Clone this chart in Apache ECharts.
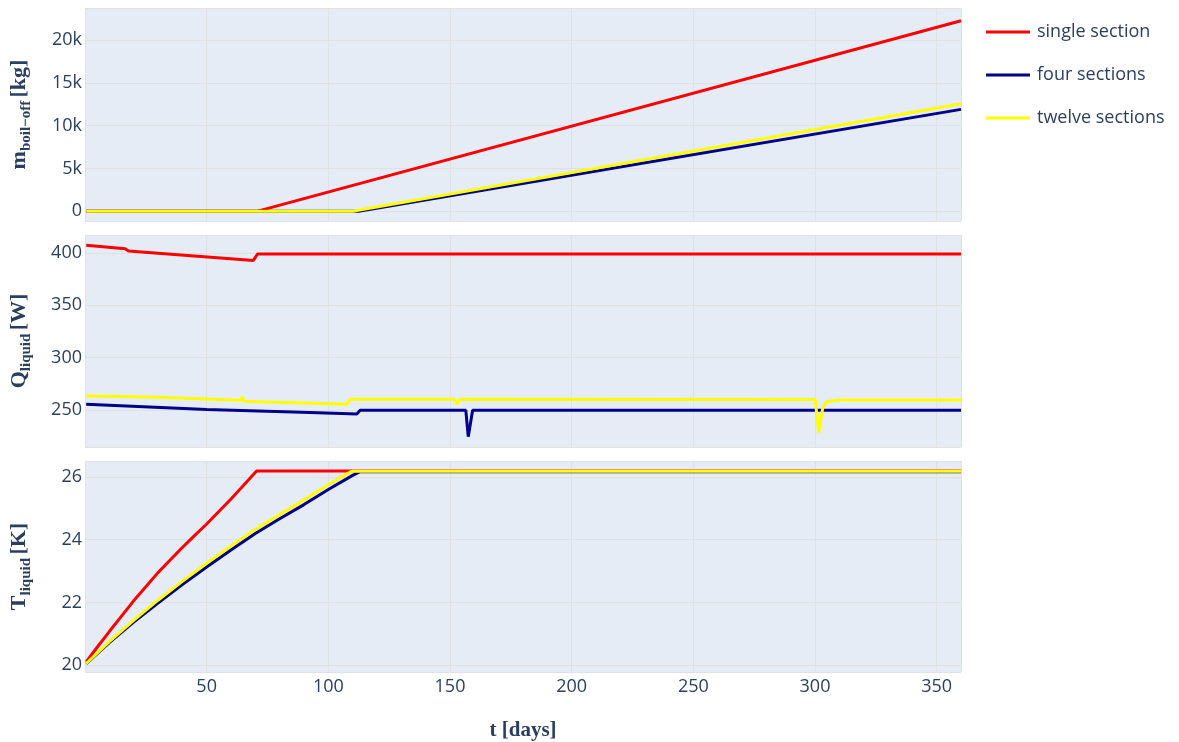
<!DOCTYPE html>
<html>
<head>
<meta charset="utf-8">
<script src="https://cdn.jsdelivr.net/npm/echarts@6/dist/echarts.min.js"></script>
<style>
  html, body { margin: 0; padding: 0; background: #ffffff; }
  #chart { width: 1179px; height: 742px; }
</style>
</head>
<body>
<div id="chart"></div>
<script>
// Tank simulation results: boil-off mass, heat into the liquid and liquid temperature
const seriesNames = ['single section', 'four sections', 'twelve sections'];
const seriesColors = ['#ff0000', '#00008b', '#ffff00'];

// [t (days), boil-off mass (kg)]
const boilSingle = [[0.5, 0], [71, 0], [360, 22260]];
const boilFour = [[0.5, 0], [112.5, 0], [360, 11900]];
const boilTwelve = [[0.5, 0], [110, 0], [360, 12560]];

// [t (days), heat into liquid (W)]
const heatSingle = [[0.5, 407.3], [16.5, 404.1], [17.9, 401.9], [69.2, 392.9], [70.9, 399.0], [360, 399.0]];
const heatFour = [[0.5, 255.5], [50, 250.5], [89, 247.8], [111.7, 246.2], [113.1, 249.7], [156.5, 249.7],
                  [157.5, 224.5], [159.3, 249.7], [360, 249.7]];
const heatTwelve = [[0.5, 263.4], [26.3, 262.4], [26.8, 260.6], [64.0, 259.3], [64.6, 262.7], [65.3, 258.4],
                    [107.6, 255.5], [109, 260.3], [151.8, 260.3], [152.9, 255.8], [154.1, 260.3], [300.1, 259.9],
                    [301.5, 228.3], [303.3, 253.2], [304.8, 258.0], [310.3, 259.6], [360, 259.6]];

// [t (days), liquid temperature (K)]
const tempSingle = [[0.5, 20.1], [5, 20.57], [10, 21.07], [15, 21.56], [20, 22.05], [25, 22.5], [30, 22.95],
                    [35, 23.35], [40, 23.75], [45, 24.13], [50, 24.5], [55, 24.9], [60, 25.3], [65, 25.72],
                    [70.5, 26.19], [360, 26.19]];
const tempFour = [[0.5, 20.05], [10, 20.72], [20, 21.37], [30, 21.98], [40, 22.57], [50, 23.13], [60, 23.67],
                  [70, 24.2], [80, 24.67], [90, 25.12], [100, 25.6], [110, 26.05], [113, 26.17], [360, 26.17]];
const tempTwelve = [[0.5, 20.05], [10, 20.75], [20, 21.43], [30, 22.07], [40, 22.67], [50, 23.25], [60, 23.8],
                    [70, 24.33], [80, 24.8], [90, 25.27], [100, 25.75], [109.5, 26.18], [360, 26.18]];

const panels = [
  [boilSingle, boilFour, boilTwelve],
  [heatSingle, heatFour, heatTwelve],
  [tempSingle, tempFour, tempTwelve]
];

// y ranges per panel and the number of splits that yields the ticks
const yRanges = [[-1150, 23750, 5], [214.6, 417.2, 4], [19.78, 26.51, 3]];

const textColor = '#2a3f5f';
const gridColor = '#dfe1e5';
const labelFont = { color: textColor, fontSize: 18, fontFamily: 'Open Sans' };
const titleFont = 'Liberation Serif';

const grids = [
  { left: 85, right: 218, top: 8, height: 213 },
  { left: 85, right: 218, top: 235, height: 212 },
  { left: 85, right: 218, top: 461, height: 212 }
];

const yNames = [
  '{m|m}{s|boil\u2212off} {m|[kg]}',
  '{m|Q}{s|liquid} {m|[W]}',
  '{m|T}{s|liquid} {m|[K]}'
];

const richTitle = {
  m: { fontFamily: titleFont, fontWeight: 'bold', fontSize: 22, color: textColor, verticalAlign: 'bottom' },
  s: { fontFamily: titleFont, fontWeight: 'bold', fontSize: 15, color: textColor, verticalAlign: 'bottom', padding: [0, 0, -4, 0] }
};

const xAxes = grids.map((g, i) => ({
  type: 'value',
  gridIndex: i,
  min: 0,
  max: 360,
  interval: 50,
  axisLine: { show: false },
  axisTick: { show: false },
  axisLabel: {
    show: i === 2, ...labelFont, margin: 6,
    showMinLabel: false, showMaxLabel: false
  },
  splitLine: { show: true, lineStyle: { color: gridColor, width: 1 } },
  name: i === 2 ? 't [days]' : '',
  nameLocation: 'middle',
  nameGap: 48,
  nameTextStyle: { fontFamily: titleFont, fontWeight: 'bold', fontSize: 21, color: textColor }
}));

const yAxes = grids.map((g, i) => ({
  type: 'value',
  gridIndex: i,
  min: yRanges[i][0],
  max: yRanges[i][1],
  splitNumber: yRanges[i][2],
  axisLine: { show: false },
  axisTick: { show: false },
  axisLabel: {
    ...labelFont, margin: 3,
    showMinLabel: false, showMaxLabel: false,
    formatter: i === 0 ? (v => (v === 0 ? '0' : (v / 1000) + 'k')) : (v => String(v))
  },
  splitLine: { show: true, lineStyle: { color: gridColor, width: 1 } },
  name: yNames[i],
  nameLocation: 'middle',
  nameRotate: 90,
  nameGap: 55,
  nameTextStyle: { rich: richTitle }
}));

const series = [];
panels.forEach((panel, p) => {
  panel.forEach((data, k) => {
    series.push({
      name: seriesNames[k],
      type: 'line',
      xAxisIndex: p,
      yAxisIndex: p,
      data: data,
      showSymbol: false,
      symbol: 'none',
      lineStyle: { color: seriesColors[k], width: 3 },
      itemStyle: { color: seriesColors[k] },
      z: 2 + k
    });
  });
});

const chart = echarts.init(document.getElementById('chart'), null, { renderer: 'canvas' });
chart.setOption({
  animation: false,
  backgroundColor: '#ffffff',
  color: seriesColors,
  grid: grids.map(g => ({ ...g, show: true, backgroundColor: '#e5ecf6', borderWidth: 0 })),
  xAxis: xAxes,
  yAxis: yAxes,
  legend: {
    data: seriesNames,
    orient: 'vertical',
    left: 981,
    top: 17,
    itemWidth: 44,
    itemHeight: 3,
    itemGap: 23,
    icon: 'rect',
    textStyle: { ...labelFont, lineHeight: 20, padding: [0, 0, 0, 2] }
  },
  series: series
});
</script>
</body>
</html>
